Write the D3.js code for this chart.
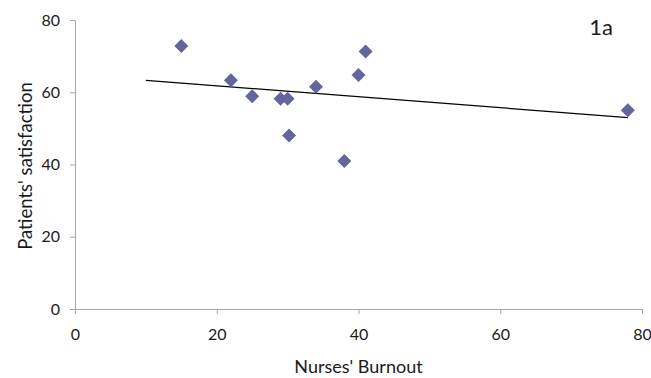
<!DOCTYPE html>
<html>
<head>
<meta charset="utf-8">
<script src="https://cdn.jsdelivr.net/npm/d3@7"></script>
<style>
  body { margin: 0; background: #fff; }
  text { font-family: Lato, "Open Sans", sans-serif; fill: #1a1a1a; }
  .axis path, .axis line { stroke: #a6a6a6; }
</style>
</head>
<body>
<div id="chart"></div>
<script>
// nurses' burnout vs patients' satisfaction
const burnout = [15, 22, 25, 29, 30, 30.2, 34, 38, 40, 41, 78];
const satisfaction = [72.8, 63.3, 58.9, 58.2, 58.2, 48.0, 61.5, 41.0, 64.8, 71.3, 55.0];
// trend line end points
const trendX = [10, 78];
const trendY = [63.3, 53.0];
const xTicks = [0, 20, 40, 60, 80];
const yTicks = [0, 20, 40, 60, 80];

const width = 651, height = 378;
const margin = { top: 20, right: 9, bottom: 69, left: 75 };
const innerW = width - margin.left - margin.right;
const innerH = height - margin.top - margin.bottom;

const svg = d3.select('#chart').append('svg')
  .attr('width', width)
  .attr('height', height);

const chart = svg.append('g')
  .attr('transform', `translate(${margin.left}, ${margin.top})`);

const xScale = d3.scaleLinear().domain([0, 80]).range([0, innerW]);
const yScale = d3.scaleLinear().domain([0, 80]).range([innerH, 0]);

// axes
const xAxis = chart.append('g')
  .attr('class', 'axis')
  .attr('transform', `translate(0, ${innerH})`)
  .call(d3.axisBottom(xScale).tickValues(xTicks).tickSize(5).tickSizeOuter(0));
xAxis.selectAll('text').attr('font-size', 16).attr('y', 0).attr('dy', 31);

const yAxis = chart.append('g')
  .attr('class', 'axis')
  .call(d3.axisLeft(yScale).tickValues(yTicks).tickSize(5).tickSizeOuter(0));
yAxis.selectAll('text').attr('font-size', 16).attr('x', -15);
chart.selectAll('.axis text').style('fill', '#1a1a1a').style('font-family', 'Lato, "Open Sans", sans-serif');

// trend line
const line = d3.line()
  .x(i => xScale(trendX[i]))
  .y(i => yScale(trendY[i]));
chart.append('path')
  .datum(d3.range(trendX.length))
  .attr('d', line)
  .attr('fill', 'none')
  .attr('stroke', '#000')
  .attr('stroke-width', 1.3);

// points
const diamond = d3.symbol().type(d3.symbolSquare).size(98);
chart.selectAll('.pt')
  .data(d3.range(burnout.length))
  .join('path')
  .attr('class', 'pt')
  .attr('d', diamond)
  .attr('fill', '#64649e')
  .attr('transform', i => `translate(${xScale(burnout[i])}, ${yScale(satisfaction[i])}) rotate(45)`);

// titles
svg.append('text')
  .attr('x', margin.left + xScale(40))
  .attr('y', 373)
  .attr('text-anchor', 'middle')
  .attr('font-size', 18)
  .text("Nurses' Burnout");

svg.append('text')
  .attr('transform', `translate(32, 166) rotate(-90)`)
  .attr('text-anchor', 'middle')
  .attr('font-size', 18.5)
  .text("Patients' satisfaction");

svg.append('text')
  .attr('x', 601)
  .attr('y', 35)
  .attr('text-anchor', 'middle')
  .attr('font-size', 22)
  .text('1a');
</script>
</body>
</html>
